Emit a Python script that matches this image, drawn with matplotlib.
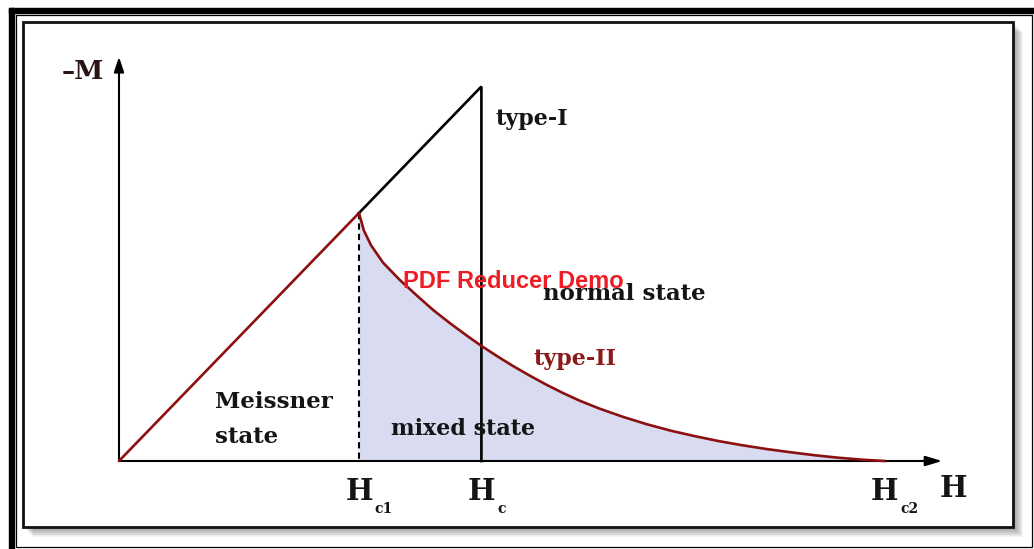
import matplotlib
matplotlib.use("Agg")
import matplotlib.pyplot as plt
from matplotlib.patches import Rectangle
from matplotlib.transforms import Affine2D

# ---- data ----
Hc1 = 1.00
Hc = 1.51
Hc2 = 3.19
meissner_h = [0.0, Hc1]
meissner_m = [0.0, Hc1]
type1_h = [Hc1, Hc, Hc]
type1_m = [Hc1, Hc, 0.0]
type2_h = [1.00, 1.02, 1.05, 1.10, 1.17, 1.24, 1.31, 1.38, 1.45, 1.51, 1.58, 1.64,
           1.71, 1.78, 1.85, 1.92, 2.00, 2.10, 2.20, 2.30, 2.40, 2.50, 2.60, 2.70,
           2.80, 2.90, 3.00, 3.10, 3.19]
type2_m = [1.00, 0.93, 0.87, 0.80, 0.73, 0.668, 0.608, 0.555, 0.505, 0.464, 0.420, 0.384,
           0.345, 0.308, 0.274, 0.243, 0.212, 0.178, 0.148, 0.122, 0.100, 0.080, 0.063,
           0.048, 0.035, 0.023, 0.013, 0.005, 0.0]
tick_pos = [Hc1, Hc, Hc2]
tick_sub = ["c1", "c", "c2"]

W, H = 1034, 549
fig = plt.figure(figsize=(W / 100, H / 100), dpi=100)
fig.patch.set_facecolor("white")
ax = fig.add_axes([0, 0, 1, 1])
ax.axis("off")
ax.set_xlim(-119 / 240, (W - 119) / 240)
ax.set_ylim(-88 / 248, (H - 88) / 248)

pix = Affine2D().scale(1 / W, -1 / H).translate(0, 1) + fig.transFigure

# ---- frame ----
ax.add_patch(Rectangle((9, 8), W - 9, 4.5, transform=pix, color="black", clip_on=False, zorder=0))
ax.add_patch(Rectangle((9, 8), 4.5, H - 8, transform=pix, color="black", clip_on=False, zorder=0))
ax.add_patch(Rectangle((15.5, 14.5), 1016.5, 532, transform=pix, fill=False, ec="black",
                       lw=0.9, clip_on=False, zorder=0))
for k in range(1, 11):
    ax.add_patch(Rectangle((22.5 + k, 21.5 + k), 990, 505.5, transform=pix, color="#000000",
                           alpha=0.045, lw=0, clip_on=False, zorder=0.1))
ax.add_patch(Rectangle((22.5, 21.5), 990, 505.5, transform=pix, fc="white", ec="#111111",
                       lw=2.0, clip_on=False, zorder=0.2))

red = "#8c1010"
# ---- fill and curves ----
ax.fill_between(type2_h, type2_m, 0, color="#d9dcf0", lw=0, zorder=1)
ax.plot(meissner_h, meissner_m, color=red, lw=1.9, zorder=3, solid_capstyle="round")
ax.plot(type1_h, type1_m, color="black", lw=1.9, zorder=3, solid_joinstyle="miter")
ax.plot(type2_h, type2_m, color=red, lw=1.9, zorder=3, solid_joinstyle="round")
ax.plot([Hc1, Hc1], [Hc1, 0], color="black", lw=1.5, ls=(0, (3, 2)), zorder=2)

# ---- axes arrows ----
ax.annotate("", xy=(3.43, 0), xytext=(0, 0),
            arrowprops=dict(arrowstyle="-|>,head_length=1.0,head_width=0.3", lw=1.5,
                            color="black", shrinkA=0, shrinkB=0, mutation_scale=10), zorder=2)
ax.annotate("", xy=(0, 1.63), xytext=(0, 0),
            arrowprops=dict(arrowstyle="-|>,head_length=0.9,head_width=0.3", lw=1.5,
                            color="black", shrinkA=0, shrinkB=0, mutation_scale=10), zorder=2)

serif = "DejaVu Serif"
kw = dict(family=serif, fontweight="bold", fontsize=16, color="#151515", zorder=5)

ax.text(-0.2375, 1.54, "–M", family=serif, fontweight="bold", fontsize=19, color="#2a1414",
        ha="left", va="baseline", zorder=5)
ax.text(1.567, 1.355, "type-I", ha="left", va="baseline", **kw)
ax.text(1.767, 0.649, "normal state", ha="left", va="baseline", **{**kw, "fontsize": 16.5})
ax.text(1.725, 0.387, "type-II", ha="left", va="baseline",
        **{**kw, "color": "#8b1a1a"})
ax.text(0.40, 0.2137, "Meissner", ha="left", va="baseline", **{**kw, "fontsize": 16.5})
ax.text(0.40, 0.0726, "state", ha="left", va="baseline", **{**kw, "fontsize": 16.5})
ax.text(1.133, 0.1048, "mixed state", ha="left", va="baseline", **kw)
ax.text(1.183, 0.698, "PDF Reducer Demo", family="Liberation Sans", fontweight="bold",
        fontsize=17, color="#ee1c24", ha="left", va="baseline", zorder=6)

for p, s in zip(tick_pos, tick_sub):
    ax.text(p, -0.1573, "H", family=serif, fontweight="bold", fontsize=21, color="#151515",
            ha="center", va="baseline", zorder=5)
    ax.text(p + 0.065, -0.2097, s, family=serif, fontweight="bold", fontsize=10,
            color="#151515", ha="left", va="baseline", zorder=5)
ax.text(3.421, -0.145, "H", family=serif, fontweight="bold", fontsize=21, color="#151515",
        ha="left", va="baseline", zorder=5)

fig.savefig("out.png", dpi=100)
